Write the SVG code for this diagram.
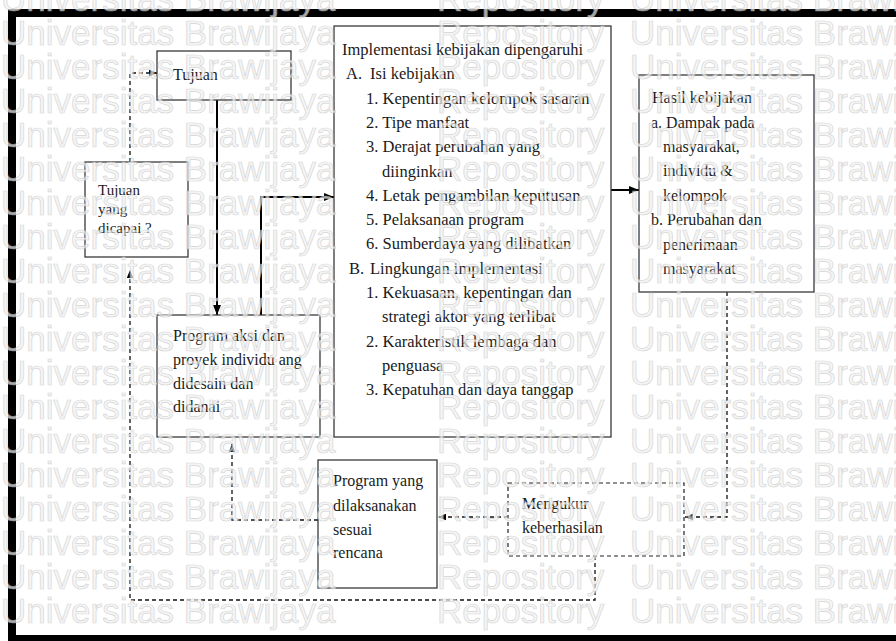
<svg xmlns="http://www.w3.org/2000/svg" width="896" height="641" viewBox="0 0 896 641">
<defs>
<style>
.box{fill:#fff;stroke:#3a3a3a;stroke-width:1.3}
.dbox{fill:#fff;stroke:#222;stroke-width:1.2;stroke-dasharray:4 3}
.t{font-family:"Liberation Serif","Times New Roman",serif;font-size:16px;fill:#1a1a1a}
.ti{font-size:16.5px}
.s15{font-size:15px}
.ln{fill:none;stroke:#000;stroke-width:2}
.dl{fill:none;stroke:#111;stroke-width:1.3;stroke-dasharray:4 3}
.wm{font-family:"Liberation Sans",Arial,sans-serif;font-size:35px;fill:#f2f2f2;stroke:#c6c6c6;stroke-width:0.7}
</style>
<marker id="ah" viewBox="0 0 10 8" refX="10" refY="4" markerWidth="10" markerHeight="8" markerUnits="userSpaceOnUse" orient="auto"><path d="M0,0 L10,4 L0,8 z" fill="#000"/></marker>
<marker id="ahs" viewBox="0 0 10 8" refX="10" refY="4" markerWidth="8" markerHeight="7" markerUnits="userSpaceOnUse" orient="auto"><path d="M0,0 L10,4 L0,8 z" fill="#000"/></marker>
</defs>
<rect width="896" height="641" fill="#fff"/>
<g id="frame" fill="#000">
<rect x="8" y="9" width="888" height="8"/>
<rect x="8" y="9" width="8" height="632"/>
<rect x="8" y="635" width="888" height="6"/>
</g>
<g id="connectors">
<path class="ln" d="M217,100 V315" marker-end="url(#ah)"/>
<path class="ln" d="M261,315 V197 H334" marker-end="url(#ah)"/>
<path class="ln" d="M611,190 H639" marker-end="url(#ah)"/>
<path class="dl" d="M727,292 V517 H685" marker-end="url(#ahs)"/>
<path class="dl" d="M508,517 H438" marker-end="url(#ahs)"/>
<path class="dl" d="M318,520 H232 V444" marker-end="url(#ahs)"/>
<path class="dl" d="M595,556 V600 H130 V270" marker-end="url(#ahs)"/>
<path class="dl" d="M130,162 V73 H157" marker-end="url(#ahs)"/>
</g>
<g id="tujuan">
<rect class="box" x="157" y="51" width="134" height="49"/>
<text class="t" x="173" y="80">Tujuan</text>
</g>
<g id="tujuan-dicapai">
<rect class="box" x="85" y="162" width="103" height="95"/>
<text class="t s15" x="98" y="195">Tujuan</text>
<text class="t s15" x="98" y="214">yang</text>
<text class="t s15" x="98" y="233">dicapai ?</text>
</g>
<g id="implementasi">
<rect class="box" x="334" y="26" width="277" height="411"/>
<text class="t ti" x="342" y="55">Implementasi kebijakan dipengaruhi</text>
<text class="t ti" x="346" y="79">A.</text>
<text class="t ti" x="370" y="79">Isi kebijakan</text>
<text class="t ti" x="366" y="104">1. Kepentingan kelompok sasaran</text>
<text class="t ti" x="366" y="128">2. Tipe manfaat</text>
<text class="t ti" x="366" y="152">3. Derajat perubahan yang</text>
<text class="t ti" x="382" y="177">diinginkan</text>
<text class="t ti" x="366" y="201">4. Letak pengambilan keputusan</text>
<text class="t ti" x="366" y="225">5. Pelaksanaan program</text>
<text class="t ti" x="366" y="249">6. Sumberdaya yang dilibatkan</text>
<text class="t ti" x="349" y="274">B.</text>
<text class="t ti" x="370" y="274">Lingkungan implementasi</text>
<text class="t ti" x="366" y="298">1. Kekuasaan, kepentingan dan</text>
<text class="t ti" x="382" y="322">strategi aktor yang terlibat</text>
<text class="t ti" x="366" y="347">2. Karakteristik lembaga dan</text>
<text class="t ti" x="382" y="371">penguasa</text>
<text class="t ti" x="366" y="395">3. Kepatuhan dan daya tanggap</text>
</g>
<g id="hasil">
<rect class="box" x="639" y="75" width="175" height="217"/>
<text class="t" x="652" y="103">Hasil kebijakan</text>
<text class="t" x="651" y="128">a. Dampak pada</text>
<text class="t" x="663" y="152">masyarakat,</text>
<text class="t" x="663" y="176">individu &amp;</text>
<text class="t" x="663" y="201">kelompok</text>
<text class="t" x="651" y="225">b. Perubahan dan</text>
<text class="t" x="663" y="250">penerimaan</text>
<text class="t" x="663" y="274">masyarakat</text>
</g>
<g id="program-aksi">
<rect class="box" x="157" y="315" width="163" height="122"/>
<text class="t" x="173" y="341">Program aksi dan</text>
<text class="t" x="173" y="365">proyek individu ang</text>
<text class="t" x="173" y="389">didesain dan</text>
<text class="t" x="173" y="412">didanai</text>
</g>
<g id="program-yang">
<rect class="box" x="318" y="460" width="119" height="128"/>
<text class="t" x="333" y="486">Program yang</text>
<text class="t" x="333" y="511">dilaksanakan</text>
<text class="t" x="333" y="535">sesuai</text>
<text class="t" x="333" y="558">rencana</text>
</g>
<g id="mengukur">
<rect class="dbox" x="508" y="483" width="176" height="73"/>
<text class="t" x="522" y="509">Mengukur</text>
<text class="t" x="522" y="533">keberhasilan</text>
</g>
<g id="watermark" class="wm" opacity="0.7">
<text y="11"><tspan x="1">Universitas Brawijaya</tspan><tspan x="437">Repository</tspan><tspan x="630">Universitas Brawijaya</tspan></text>
<text y="45"><tspan x="1">Universitas Brawijaya</tspan><tspan x="437">Repository</tspan><tspan x="630">Universitas Brawijaya</tspan></text>
<text y="79"><tspan x="1">Universitas Brawijaya</tspan><tspan x="437">Repository</tspan><tspan x="630">Universitas Brawijaya</tspan></text>
<text y="113"><tspan x="1">Universitas Brawijaya</tspan><tspan x="437">Repository</tspan><tspan x="630">Universitas Brawijaya</tspan></text>
<text y="147"><tspan x="1">Universitas Brawijaya</tspan><tspan x="437">Repository</tspan><tspan x="630">Universitas Brawijaya</tspan></text>
<text y="181"><tspan x="1">Universitas Brawijaya</tspan><tspan x="437">Repository</tspan><tspan x="630">Universitas Brawijaya</tspan></text>
<text y="215"><tspan x="1">Universitas Brawijaya</tspan><tspan x="437">Repository</tspan><tspan x="630">Universitas Brawijaya</tspan></text>
<text y="249"><tspan x="1">Universitas Brawijaya</tspan><tspan x="437">Repository</tspan><tspan x="630">Universitas Brawijaya</tspan></text>
<text y="283"><tspan x="1">Universitas Brawijaya</tspan><tspan x="437">Repository</tspan><tspan x="630">Universitas Brawijaya</tspan></text>
<text y="317"><tspan x="1">Universitas Brawijaya</tspan><tspan x="437">Repository</tspan><tspan x="630">Universitas Brawijaya</tspan></text>
<text y="351"><tspan x="1">Universitas Brawijaya</tspan><tspan x="437">Repository</tspan><tspan x="630">Universitas Brawijaya</tspan></text>
<text y="385"><tspan x="1">Universitas Brawijaya</tspan><tspan x="437">Repository</tspan><tspan x="630">Universitas Brawijaya</tspan></text>
<text y="419"><tspan x="1">Universitas Brawijaya</tspan><tspan x="437">Repository</tspan><tspan x="630">Universitas Brawijaya</tspan></text>
<text y="453"><tspan x="1">Universitas Brawijaya</tspan><tspan x="437">Repository</tspan><tspan x="630">Universitas Brawijaya</tspan></text>
<text y="487"><tspan x="1">Universitas Brawijaya</tspan><tspan x="437">Repository</tspan><tspan x="630">Universitas Brawijaya</tspan></text>
<text y="521"><tspan x="1">Universitas Brawijaya</tspan><tspan x="437">Repository</tspan><tspan x="630">Universitas Brawijaya</tspan></text>
<text y="555"><tspan x="1">Universitas Brawijaya</tspan><tspan x="437">Repository</tspan><tspan x="630">Universitas Brawijaya</tspan></text>
<text y="589"><tspan x="1">Universitas Brawijaya</tspan><tspan x="437">Repository</tspan><tspan x="630">Universitas Brawijaya</tspan></text>
<text y="623"><tspan x="1">Universitas Brawijaya</tspan><tspan x="437">Repository</tspan><tspan x="630">Universitas Brawijaya</tspan></text>
</g>
</svg>
